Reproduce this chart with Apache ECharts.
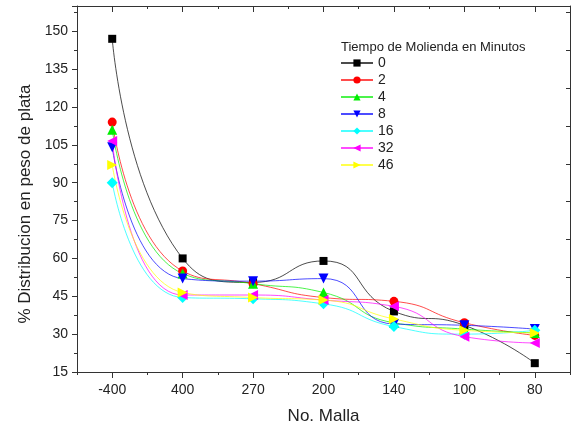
<!DOCTYPE html>
<html>
<head>
<meta charset="utf-8">
<script src="https://cdn.jsdelivr.net/npm/echarts@6/dist/echarts.min.js"></script>
<style>
  html, body { margin: 0; padding: 0; background: #fff; }
  #chart { width: 574px; height: 430px; }
</style>
</head>
<body>
<div id="chart"></div>
<script>
const mallas = ["-400", "400", "270", "200", "140", "100", "80"];

const t0 = [147, 60, 50.5, 59, 39, 33.5, 18.5];
const t2 = [114, 55, 50, 44.5, 43, 34.5, 29.5];
const t4 = [111, 54, 50, 46.5, 34.5, 32, 30.5];
const t8 = [104, 52, 51, 52, 34, 33.5, 32];
const t16 = [90, 44.5, 44, 42, 33, 30, 31.5];
const t32 = [106.5, 45.5, 45.5, 43.5, 41, 29, 26.5];
const t46 = [97, 46.5, 44.5, 43.5, 36, 31.5, 30.5];

const FONT = "Liberation Sans, Arial, sans-serif";
const INK = "#222";

const makeSeries = (name, data, color, symbol, size, rotate) => ({
  name,
  type: "line",
  data,
  smooth: 0.55,
  symbol,
  symbolSize: size,
  symbolRotate: rotate || 0,
  itemStyle: { color },
  lineStyle: { color, width: 1, opacity: 0.7 },
  xAxisIndex: 0,
  yAxisIndex: 0,
});

const seriesList = [
  makeSeries("0", t0, "#000000", "rect", 8),
  makeSeries("2", t2, "#ff0000", "circle", 9),
  makeSeries("4", t4, "#00ee00", "triangle", 10),
  makeSeries("8", t8, "#0000ff", "triangle", 10, 180),
  makeSeries("16", t16, "#00ffff", "diamond", 11),
  makeSeries("32", t32, "#ff00ff", "triangle", 10, 90),
  makeSeries("46", t46, "#ffff00", "triangle", 10, -90),
];

const axisLine = { show: true, onZero: false, lineStyle: { color: "#333", width: 1 } };

const chart = echarts.init(document.getElementById("chart"));
chart.setOption({
  animation: false,
  backgroundColor: "#fff",
  grid: { left: 77, right: 4, top: 6, bottom: 57 },
  title: {
    text: "Tiempo de Molienda en Minutos",
    left: 336,
    top: 36,
    textStyle: { fontFamily: FONT, fontSize: 13, fontWeight: "normal", color: INK },
  },
  legend: {
    orient: "vertical",
    left: 335,
    top: 51,
    itemWidth: 32,
    itemHeight: 9,
    itemGap: 3,
    textStyle: { fontFamily: FONT, fontSize: 14, color: INK },
    data: seriesList.map((s) => s.name),
  },
  xAxis: [
    {
      type: "category",
      data: mallas,
      position: "bottom",
      boundaryGap: true,
      name: "No. Malla",
      nameLocation: "middle",
      nameGap: 36,
      nameTextStyle: { fontFamily: FONT, fontSize: 17, color: INK },
      axisLine,
      axisTick: { show: true, alignWithLabel: true, interval: 0, length: 6, inside: false, lineStyle: { color: "#333" } },
      axisLabel: { interval: 0, margin: 11, fontFamily: FONT, fontSize: 14, color: INK },
      splitLine: { show: false },
    },
    {
      type: "category",
      data: mallas,
      position: "bottom",
      boundaryGap: true,
      axisLine: { show: false },
      axisTick: { show: true, alignWithLabel: false, interval: 0, length: 3, inside: false, lineStyle: { color: "#333" } },
      axisLabel: { show: false },
      splitLine: { show: false },
    },
    {
      type: "category",
      data: mallas,
      position: "top",
      boundaryGap: true,
      axisLine,
      axisTick: { show: true, alignWithLabel: true, interval: 0, length: 6, inside: true, lineStyle: { color: "#333" } },
      axisLabel: { show: false },
      splitLine: { show: false },
    },
    {
      type: "category",
      data: mallas,
      position: "top",
      boundaryGap: true,
      axisLine: { show: false },
      axisTick: { show: true, alignWithLabel: false, interval: 0, length: 3, inside: true, lineStyle: { color: "#333" } },
      axisLabel: { show: false },
      splitLine: { show: false },
    },
  ],
  yAxis: [
    {
      type: "value",
      position: "left",
      min: 15,
      max: 160,
      interval: 15,
      name: "% Distribucion en peso de plata",
      nameLocation: "middle",
      nameGap: 39,
      nameRotate: 90,
      nameTextStyle: { fontFamily: FONT, fontSize: 17, color: INK, padding: [0, 30, 0, 0] },
      axisLine,
      axisTick: { show: true, length: 5, inside: false, lineStyle: { color: "#333" } },
      minorTick: { show: true, splitNumber: 2, length: 3, lineStyle: { color: "#333" } },
      axisLabel: { margin: 9, showMaxLabel: false, fontFamily: FONT, fontSize: 14, color: INK },
      splitLine: { show: false },
      minorSplitLine: { show: false },
    },
    {
      type: "value",
      position: "right",
      min: 15,
      max: 160,
      interval: 15,
      axisLine,
      axisTick: { show: false },
      minorTick: { show: true, splitNumber: 2, length: -4, lineStyle: { color: "#333" } },
      axisLabel: { show: false },
      splitLine: { show: false },
    },
  ],
  series: seriesList,
});
</script>
</body>
</html>
